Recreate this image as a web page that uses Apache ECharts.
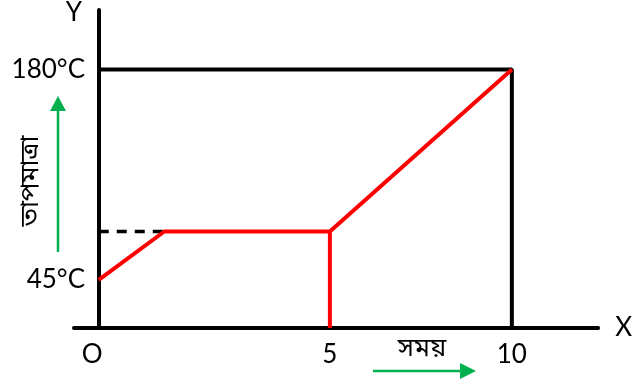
<!DOCTYPE html>
<html>
<head>
<meta charset="utf-8">
<script src="https://cdn.jsdelivr.net/npm/echarts@6/dist/echarts.min.js"></script>
<style>
  html, body { margin: 0; padding: 0; background: #fff; }
  #chart { width: 635px; height: 386px; }
</style>
</head>
<body>
<div id="chart"></div>
<script>
// axis ranges (sketch scale, origin O is not at zero)
const timeMin = -2.03;
const timeMax = 12.37;
const originTime = -1.35;
const tempMin = 14.1;
const tempMax = 218.1;

// tick labels
const timeTickValues = [originTime, 5, 10];
const timeTickLabels = ["O", "5", "10"];
const tempTickValues = [45, 180];

// heating curve
const curveTime = [originTime, 0.45, 5, 10];
const curveTemp = [45, 76, 76, 180];

// red drop line at t = 5
const dropTime = [5, 5];
const dropTemp = [76, tempMin];

// dashed guide to the plateau
const guideTime = [originTime, 0.45];
const guideTemp = [76, 76];

// black frame at 180°C and t = 10
const frameTime = [originTime, 10, 10];
const frameTemp = [180, 180, tempMin];

const zip = (xs, ys) => xs.map((x, i) => [x, ys[i]]);

const chartDom = document.getElementById("chart");
const myChart = echarts.init(chartDom);

const font = "Lato, 'Liberation Sans', sans-serif";
const bnFont = "'Noto Sans Bengali', 'Lohit Bengali', 'Noto Sans', sans-serif";
const green = "#00B050";

const option = {
    animation: false,
    grid: { left: 74, right: 33, top: 9, bottom: 58 },
    xAxis: {
        type: "value",
        min: timeMin,
        max: timeMax,
        name: "X",
        nameLocation: "end",
        nameGap: 17,
        nameTextStyle: { fontFamily: font, fontSize: 26, color: "#000" },
        axisLine: { onZero: false, lineStyle: { color: "#000", width: 4 } },
        axisTick: { show: false },
        splitLine: { show: false },
        axisLabel: {
            customValues: timeTickValues,
            margin: 14,
            fontFamily: font,
            fontSize: 26,
            color: "#000",
            formatter: (v) => {
                const i = timeTickValues.indexOf(v);
                if (i === 0) return "{o|" + timeTickLabels[0] + "}";
                return i >= 0 ? timeTickLabels[i] : "";
            },
            rich: {
                o: { fontFamily: font, fontSize: 26, color: "#000", padding: [0, 13, 0, 0] },
            },
        },
    },
    yAxis: {
        type: "value",
        min: tempMin,
        max: tempMax,
        offset: -25,
        name: "Y",
        nameLocation: "end",
        nameGap: -3,
        nameTextStyle: {
            fontFamily: font,
            fontSize: 26,
            color: "#000",
            align: "right",
            verticalAlign: "middle",
            padding: [0, 17, 0, 0],
        },
        axisLine: { show: true, onZero: false, lineStyle: { color: "#000", width: 4 } },
        axisTick: { show: false },
        splitLine: { show: false },
        axisLabel: {
            customValues: tempTickValues,
            margin: 14,
            fontFamily: font,
            fontSize: 26,
            color: "#000",
            formatter: (v) => v + "°C",
        },
    },
    series: [
        {
            name: "frame",
            type: "line",
            data: zip(frameTime, frameTemp),
            symbol: "none",
            lineStyle: { color: "#000", width: 4 },
            z: 2,
        },
        {
            name: "guide",
            type: "line",
            data: zip(guideTime, guideTemp),
            symbol: "none",
            lineStyle: { color: "#000", width: 3.5, type: [10, 8] },
            z: 2,
        },
        {
            name: "drop",
            type: "line",
            data: zip(dropTime, dropTemp),
            symbol: "none",
            lineStyle: { color: "#FF0000", width: 4 },
            z: 3,
        },
        {
            name: "curve",
            type: "line",
            data: zip(curveTime, curveTemp),
            symbol: "none",
            lineStyle: { color: "#FF0000", width: 4 },
            z: 4,
        },
    ],
    graphic: [
        {
            type: "text",
            x: 33,
            y: 181,
            rotation: Math.PI / 2,
            style: {
                text: "তাপমাত্রা",
                font: "26px " + bnFont,
                fill: "#000",
                align: "center",
                verticalAlign: "middle",
            },
        },
        {
            type: "text",
            x: 422,
            y: 351,
            style: {
                text: "সময়",
                font: "26px " + bnFont,
                fill: "#000",
                align: "center",
                verticalAlign: "middle",
            },
        },
        // vertical green arrow
        { type: "line", shape: { x1: 58, y1: 252, x2: 58, y2: 110 }, style: { stroke: green, lineWidth: 2.5 } },
        { type: "polygon", shape: { points: [[58, 96], [50, 111], [66, 111]] }, style: { fill: green } },
        // horizontal green arrow
        { type: "line", shape: { x1: 373, y1: 371, x2: 461, y2: 371 }, style: { stroke: green, lineWidth: 2.5 } },
        { type: "polygon", shape: { points: [[476, 371], [460, 363], [460, 379]] }, style: { fill: green } },
    ],
};

myChart.setOption(option);
</script>
</body>
</html>
